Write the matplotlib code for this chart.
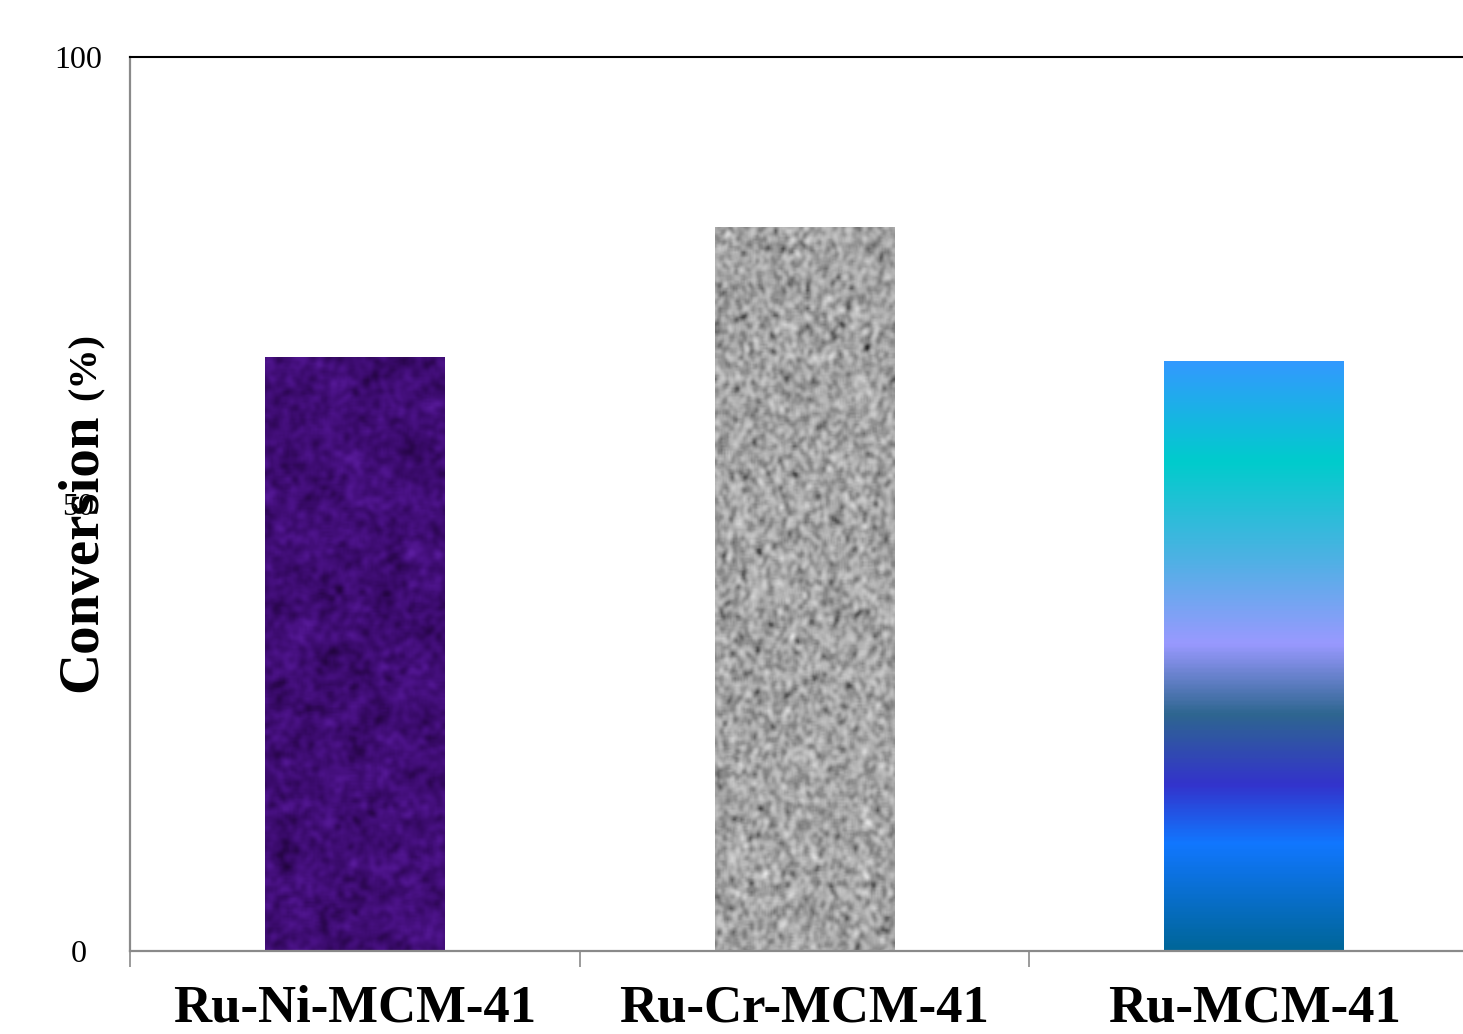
import numpy as np
import matplotlib
matplotlib.use("Agg")
import matplotlib.pyplot as plt
from matplotlib.colors import LinearSegmentedColormap

plt.rcParams['font.family'] = ['Liberation Serif', 'DejaVu Serif']

catalysts = ['Ru-Ni-MCM-41', 'Ru-Cr-MCM-41', 'Ru-MCM-41']
conversion = [66.4, 81.0, 66.0]
y_ticks = [0, 50, 100]

rng = np.random.default_rng(7)


def blur(a, r):
    # cheap box blur done with rolls, repeated for a softer kernel
    for _ in range(2):
        acc = np.zeros_like(a)
        n = 0
        for dy in range(-r, r + 1):
            for dx in range(-r, r + 1):
                acc += np.roll(np.roll(a, dy, 0), dx, 1)
                n += 1
        a = acc / n
    return a


def norm(a):
    return (a - a.min()) / (a.max() - a.min())


# felt-like purple fill
felt = 0.55 * norm(blur(rng.random((300, 90)), 1)) + 0.45 * norm(blur(rng.random((300, 90)), 4))
felt_cmap = LinearSegmentedColormap.from_list('felt', ['#22043f', '#380a68', '#4a1286', '#5c1ea0'])

# granite-like gray fill: light stone with dark specks
granite = norm(blur(rng.random((400, 120)), 1))
granite_cmap = LinearSegmentedColormap.from_list(
    'granite', [(0.0, '#262626'), (0.28, '#7e7e7e'), (0.55, '#ababab'), (0.8, '#cacaca'), (1.0, '#e8e8e8')])

# vertical preset gradient (top -> bottom)
ocean_stops = [(0.0, '#3399ff'), (0.17, '#00cccc'), (0.33, '#4bb2e3'), (0.48, '#9999ff'),
               (0.60, '#2e6690'), (0.72, '#3333cc'), (0.82, '#1177ff'), (1.0, '#006699')]
ocean_cmap = LinearSegmentedColormap.from_list('ocean_preset', ocean_stops)
ocean = np.linspace(0, 1, 400)[:, None] * np.ones((1, 10))

fills = [(felt, felt_cmap), (granite, granite_cmap), (ocean, ocean_cmap)]

fig = plt.figure(figsize=(14.63, 10.34), dpi=100)
ax = fig.add_axes([130 / 1463, 1 - 951 / 1034, 1349 / 1463, (951 - 57) / 1034])

x = np.arange(len(catalysts))
bars = ax.bar(x, conversion, width=0.4, facecolor='none', edgecolor='none', zorder=2)
for rect, (tex, cmap) in zip(bars, fills):
    x0, w, h = rect.get_x(), rect.get_width(), rect.get_height()
    im = ax.imshow(tex, cmap=cmap, extent=[x0, x0 + w, 0, h], aspect='auto',
                   interpolation='bilinear', zorder=2)
    im.set_clip_path(rect)

ax.set_xlim(-0.5, 2.5)
ax.set_ylim(0, 100)

ax.spines['left'].set_color('#8a8a8a')
ax.spines['bottom'].set_color('#8a8a8a')
ax.spines['left'].set_linewidth(1.6)
ax.spines['bottom'].set_linewidth(1.6)
ax.spines['top'].set_color('black')
ax.spines['top'].set_linewidth(1.5)
ax.spines['right'].set_visible(False)

ax.set_xticks(x)
ax.set_xticklabels(catalysts, fontsize=38, fontweight='bold')
ax.set_xticks([-0.5, 0.5, 1.5], minor=True)
ax.tick_params(axis='x', which='major', length=0, pad=24)
ax.tick_params(axis='x', which='minor', length=11.5, width=1.2, color='#8a8a8a', direction='out')

ax.set_yticks(y_ticks)
ax.set_yticklabels([str(v) for v in y_ticks], fontsize=23)
for lbl in ax.get_yticklabels():
    lbl.set_horizontalalignment('center')
ax.tick_params(axis='y', length=0, pad=37)

fig.text(96 / 1463, 342 / 1034, 'Conversion', rotation=90, rotation_mode='anchor',
         ha='left', va='baseline', fontsize=41, fontweight='bold')
fig.text(96 / 1463, 634 / 1034, '(%)', rotation=90, rotation_mode='anchor',
         ha='left', va='baseline', fontsize=29, fontweight='bold')

fig.savefig('out.png', dpi=100)
